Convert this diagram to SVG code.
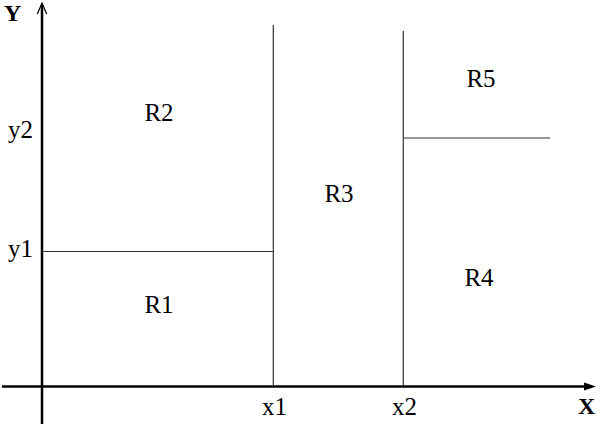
<svg xmlns="http://www.w3.org/2000/svg" width="600" height="424" viewBox="0 0 600 424">
<style>
.axis{stroke:#000;stroke-width:2.5;fill:none}
.div{stroke:#333;stroke-width:1.2;fill:none}
text{font-family:'Liberation Serif','Times New Roman','DejaVu Serif',serif;fill:#000}
.lbl{font-size:25px}
.ax{font-size:24px;font-weight:bold}
</style>
<rect width="600" height="424" fill="#fff"/>
<g id="connectors">
<line class="axis" x1="42" y1="5" x2="42" y2="424"/>
<path d="M37.3,14 L42,3 L46.7,14" stroke="#000" stroke-width="1.2" fill="none"/>
<line class="axis" x1="2" y1="386.5" x2="586" y2="386.5"/>
<path d="M584,382.5 L596,386.5 L584,390.5 Z" fill="#000"/>
<line class="div" x1="273.3" y1="25" x2="273.3" y2="386"/>
<line class="div" x1="403.3" y1="31" x2="403.3" y2="386"/>
<line class="div" x1="42" y1="251.5" x2="273.3" y2="251.5"/>
<line class="div" x1="403.3" y1="138" x2="550" y2="138"/>
</g>
<g id="axis-labels">
<text class="ax" x="4" y="21">Y</text>
<text class="ax" x="578" y="414">X</text>
<text class="lbl" x="8" y="138">y2</text>
<text class="lbl" x="8" y="257">y1</text>
<text class="lbl" x="262" y="415">x1</text>
<text class="lbl" x="392" y="415">x2</text>
</g>
<g id="R1"><text class="lbl" x="159" y="313" text-anchor="middle">R1</text></g>
<g id="R2"><text class="lbl" x="159" y="121" text-anchor="middle">R2</text></g>
<g id="R3"><text class="lbl" x="339" y="202" text-anchor="middle">R3</text></g>
<g id="R4"><text class="lbl" x="479" y="286" text-anchor="middle">R4</text></g>
<g id="R5"><text class="lbl" x="481" y="87" text-anchor="middle">R5</text></g>
</svg>
